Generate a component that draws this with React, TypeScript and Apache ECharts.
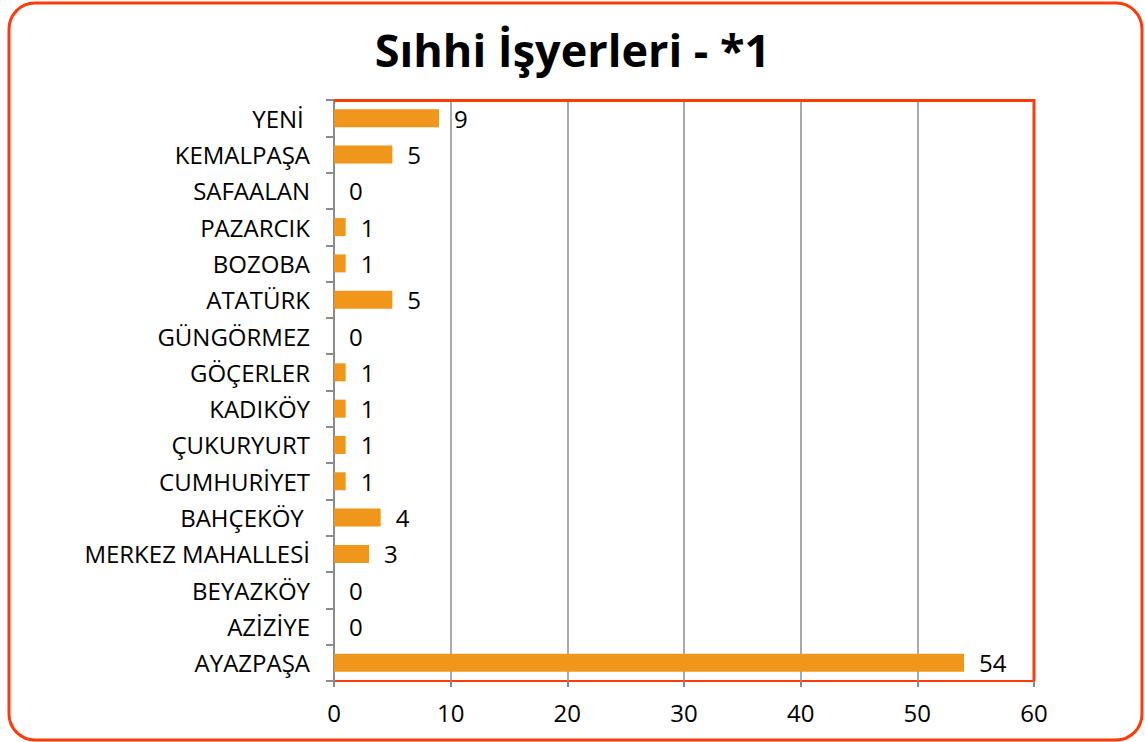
import React, { useEffect, useRef } from "react";
import * as echarts from "echarts";

const TITLE = "Sıhhi İşyerleri - *1";
const categories = [
  "YENİ ",
  "KEMALPAŞA",
  "SAFAALAN",
  "PAZARCIK",
  "BOZOBA",
  "ATATÜRK",
  "GÜNGÖRMEZ",
  "GÖÇERLER",
  "KADIKÖY",
  "ÇUKURYURT",
  "CUMHURİYET",
  "BAHÇEKÖY ",
  "MERKEZ MAHALLESİ",
  "BEYAZKÖY",
  "AZİZİYE",
  "AYAZPAŞA",
];
const values = [9, 5, 0, 1, 1, 5, 0, 1, 1, 1, 1, 4, 3, 0, 0, 54];
const xTicks = { min: 0, max: 60, interval: 10 };

const FONT = "'Open Sans', 'Noto Sans', sans-serif";
const RED = "#FF3A0A";

export default function App() {
  const ref = useRef<HTMLDivElement>(null);
  useEffect(() => {
    const chart = echarts.init(ref.current!, null, { renderer: "svg" });
    chart.setOption({
      animation: false,
      backgroundColor: "#ffffff",
      title: {
        text: TITLE,
        left: "center",
        top: 22,
        textStyle: { fontFamily: FONT, fontSize: 45, fontWeight: "bold", color: "#000" },
      },
      graphic: [
        {
          type: "rect",
          shape: { x: 9, y: 3, width: 1133, height: 737, r: 26 },
          style: { fill: "none", stroke: RED, lineWidth: 3 },
          z: 10,
        },
        {
          type: "polyline",
          shape: { points: [[334, 100.5], [1034, 100.5], [1034, 681]] },
          style: { fill: "none", stroke: RED, lineWidth: 3 },
          z: 10,
        },
      ],
      grid: {
        left: 334,
        right: 111,
        top: 100,
        bottom: 61,
        show: true,
        borderColor: RED,
        borderWidth: 2,
      },
      xAxis: {
        type: "value",
        min: xTicks.min,
        max: xTicks.max,
        interval: xTicks.interval,
        axisLine: { show: false },
        axisTick: { show: true, length: 6, lineStyle: { color: "#888", width: 2 } },
        axisLabel: { fontFamily: FONT, fontSize: 24, color: "#000", margin: 19 },
        splitLine: { show: true, lineStyle: { color: "#8c8c8c", width: 1.5 } },
      },
      yAxis: {
        type: "category",
        inverse: true,
        data: categories,
        axisLine: { show: true, lineStyle: { color: "#8c8c8c", width: 2 } },
        axisTick: { show: true, length: 8, lineStyle: { color: "#8c8c8c", width: 2 } },
        axisLabel: { fontFamily: FONT, fontSize: 24, color: "#000", margin: 24 },
      },
      series: [
        {
          type: "bar",
          data: values,
          barWidth: 18,
          itemStyle: { color: "#F0961A" },
          label: {
            show: true,
            position: "right",
            distance: 15,
            fontFamily: FONT,
            fontSize: 24,
            color: "#000",
          },
        },
      ],
    });
    return () => chart.dispose();
  }, []);
  return (
    <div
      ref={ref}
      style={{ position: "absolute", left: 0, top: 0, width: 1145, height: 742 }}
    />
  );
}
